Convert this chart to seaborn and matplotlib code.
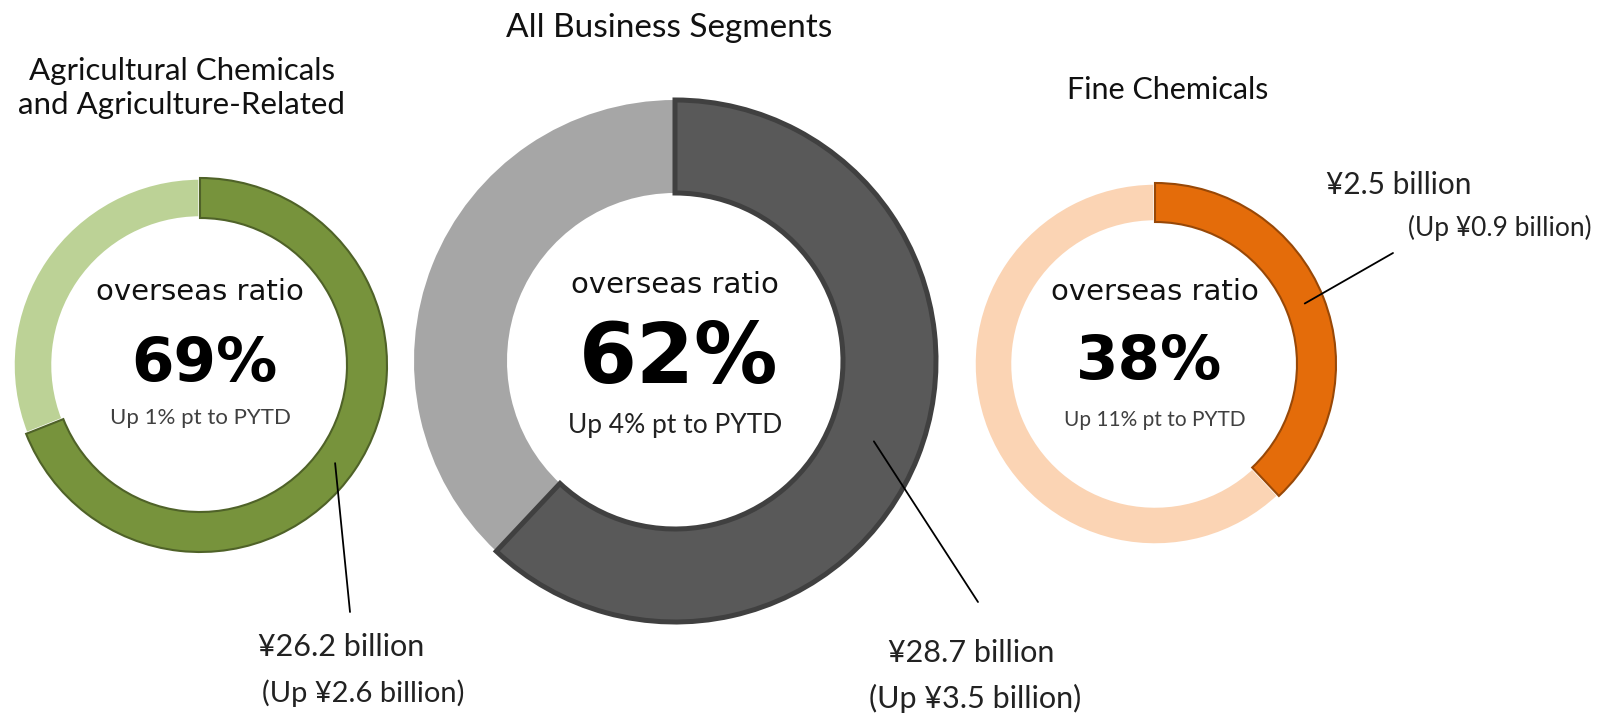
import numpy as np
import matplotlib
matplotlib.use("Agg")
import matplotlib.pyplot as plt
import seaborn as sns

# data
segments = ["Agricultural Chemicals\nand Agriculture-Related", "All Business Segments", "Fine Chemicals"]
overseas_ratio = [69, 62, 38]          # % of sales overseas
ratio_change = [1, 4, 11]              # % pt vs previous year to date
overseas_sales = [26.2, 28.7, 2.5]     # ¥ billion
sales_change = [2.6, 3.5, 0.9]         # ¥ billion

sns.set_theme(style="white")
plt.rcParams['font.family'] = ['DejaVu Sans']

W, H = 1600, 714
fig = plt.figure(figsize=(W / 100, H / 100), dpi=100)
ax = fig.add_axes([0, 0, 1, 1])

# layout (pixel coords, y up)
centers = [(200, 349), (675, 353), (1155, 350)]
radii = [187, 261, 181]
widths = [40, 93, 39]
dark_cols = ["#77933C", "#595959", "#E46C0A"]
light_cols = ["#BCD296", "#A6A6A6", "#FBD4B4"]
edge_cols = ["#4F6228", "#404040", "#984807"]
edge_lw = [1.5, 3.6, 1.5]
big_size = [44, 60, 44]
big_dx = [4, 4, -6]
sub_size = [16, 19, 15]
sub_color = ["#404040", "#222222", "#404040"]
text_dy = [(73, 0, -53), (76, 1, -65), (72, 1, -56)]
leader_angle = [-36, -22, 22]
leader_end = [(350, 102), (978, 112), (1393, 461)]
label_pos = [((258, 67), (262, 21)), ((888, 61), (869, 16)), ((1326, 529), (1408, 486))]
label_size = [(22, 21), (22, 22), (21.5, 19)]
title_pos = [(182, 626), (669, 686), (1168, 624)]
title_size = [22.5, 24, 22]

for i, seg in enumerate(segments):
    cx, cy = centers[i]
    vals = [overseas_ratio[i], 100 - overseas_ratio[i]]
    wedges, _ = ax.pie(vals, radius=radii[i], center=(cx, cy), startangle=90,
                       counterclock=False, colors=[dark_cols[i], light_cols[i]],
                       wedgeprops=dict(width=widths[i]), frame=False)
    wedges[0].set_edgecolor(edge_cols[i])
    wedges[0].set_linewidth(edge_lw[i])
    wedges[0].set_zorder(3)
    if i == 1:
        wedges[1].set_edgecolor("none")
    else:
        wedges[1].set_edgecolor("white")
        wedges[1].set_linewidth(2.5)

    # centre text
    dy1, dy2, dy3 = text_dy[i]
    ax.text(cx, cy + dy1, "overseas ratio", ha="center", va="center",
            fontsize=21, color="#111111")
    ax.text(cx + big_dx[i], cy + dy2, f"{overseas_ratio[i]}%", ha="center", va="center",
            fontsize=big_size[i], fontweight="bold", color="black")
    ax.text(cx, cy + dy3, f"Up {ratio_change[i]}% pt to PYTD", ha="center", va="center",
            fontsize=sub_size[i], color=sub_color[i], family=["Lato", "DejaVu Sans"])

    # leader line from ring middle
    rm = radii[i] - widths[i] / 2
    a = np.deg2rad(leader_angle[i])
    sx, sy = cx + rm * np.cos(a), cy + rm * np.sin(a)
    ax.plot([sx, leader_end[i][0]], [sy, leader_end[i][1]], color="black", lw=1.3, zorder=5)

    (l1, l2) = label_pos[i]
    ax.text(l1[0], l1[1], f"¥{overseas_sales[i]} billion", ha="left", va="center",
            fontsize=label_size[i][0], color="#222222", family=["Lato", "DejaVu Sans"])
    ax.text(l2[0], l2[1], f"(Up ¥{sales_change[i]} billion)", ha="left", va="center",
            fontsize=label_size[i][1], color="#222222", family=["Lato", "DejaVu Sans"])

    ax.text(title_pos[i][0], title_pos[i][1], seg, ha="center", va="center",
            fontsize=title_size[i], color="#111111", linespacing=1.3, family=["Lato", "DejaVu Sans"])

ax.set_xlim(0, W)
ax.set_ylim(0, H)
ax.set_aspect("equal")
ax.axis("off")

fig.savefig("out.png", dpi=100, facecolor="white")
